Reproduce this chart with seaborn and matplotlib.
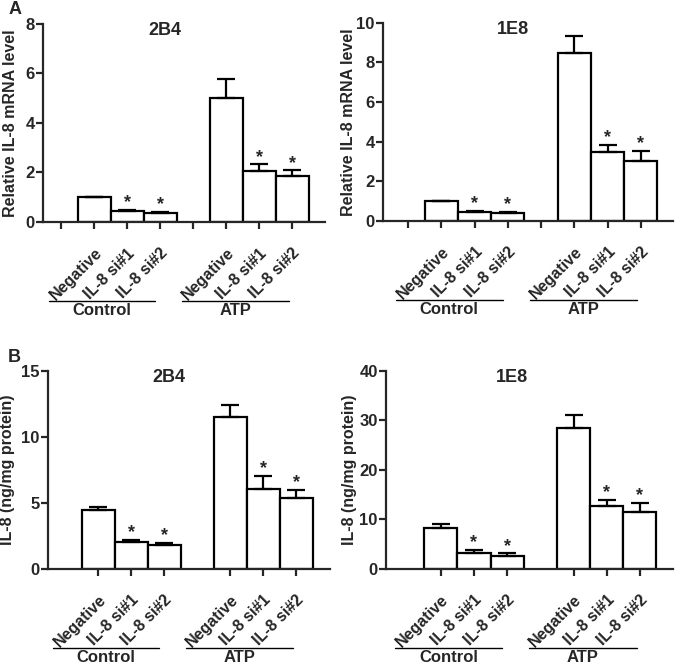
import numpy as np
import pandas as pd
import seaborn as sns
import matplotlib
matplotlib.use("Agg")
import matplotlib.pyplot as plt
import matplotlib.transforms as mtransforms

# Data (mean, upper SEM)
treatments = ["Negative", "IL-8 si#1", "IL-8 si#2"]
groups = ["Control", "ATP"]
significant = [False, True, True, False, True, True]

mrna_2b4 = [1.0, 0.43, 0.37, 5.02, 2.07, 1.84]
mrna_2b4_err = [0.0, 0.07, 0.05, 0.75, 0.26, 0.25]
mrna_1e8 = [1.0, 0.43, 0.38, 8.48, 3.45, 3.03]
mrna_1e8_err = [0.0, 0.07, 0.05, 0.86, 0.37, 0.51]
prot_2b4 = [4.45, 2.0, 1.82, 11.5, 6.05, 5.32]
prot_2b4_err = [0.25, 0.17, 0.15, 0.93, 1.0, 0.64]
prot_1e8 = [8.25, 3.2, 2.65, 28.4, 12.6, 11.5]
prot_1e8_err = [0.75, 0.6, 0.45, 2.6, 1.25, 1.75]

sns.set_style("ticks")
plt.rcParams['font.family'] = ['Liberation Sans', 'DejaVu Sans']
plt.rcParams['font.weight'] = 'bold'
plt.rcParams['axes.labelweight'] = 'bold'
plt.rcParams['axes.linewidth'] = 1.6

# category order: one blank slot before each group
order = []
for g in groups:
    order.append(f"{g}|")
    order += [f"{g}|{t}" for t in treatments]


def make_df(vals):
    names, values = [], []
    i = 0
    for g in groups:
        names.append(f"{g}|")
        values.append(np.nan)
        for t in treatments:
            names.append(f"{g}|{t}")
            values.append(vals[i])
            i += 1
    return pd.DataFrame({"cond": names, "value": values})


def draw_panel(ax, vals, errs, ylim, yticks, ylabel, title, xlim, blank_ticks, label_x):
    df = make_df(vals)
    sns.barplot(data=df, x="cond", y="value", order=order, color="white",
                edgecolor="black", linewidth=1.6, width=1.0, errorbar=None,
                saturation=1, ax=ax)
    pos = [order.index(n) for n in df["cond"] if not n.endswith("|")]
    ax.errorbar(pos, vals, yerr=[np.zeros(len(vals)), errs], fmt="none",
                ecolor="black", elinewidth=1.6, capsize=6.5, capthick=1.6, zorder=5)
    for p, v, e, s in zip(pos, vals, errs, significant):
        if s:
            ax.annotate("*", (p, v + e), xytext=(0, -1), textcoords="offset points",
                        ha="center", va="bottom", fontsize=13, fontweight="bold")
    ax.set_ylim(*ylim)
    ax.set_yticks(yticks)
    ax.set_yticklabels([str(t) for t in yticks], fontsize=12, fontweight="bold")
    ax.set_xlim(*xlim)
    if blank_ticks:
        ax.set_xticks(range(len(order)))
        ax.set_xticklabels([n.split("|")[1] for n in order])
    else:
        ax.set_xticks(pos)
        ax.set_xticklabels([n.split("|")[1] for n in order if not n.endswith("|")])
    for lab in ax.get_xticklabels():
        lab.set_rotation(45)
        lab.set_ha("right")
        lab.set_rotation_mode("anchor")
        lab.set_fontsize(11.5)
        lab.set_fontweight("bold")
    ax.tick_params(axis="x", length=5, width=1.6, pad=12)
    ax.tick_params(axis="y", length=5, width=1.6, pad=1)
    ax.set_xlabel("")
    ax.set_ylabel(ylabel, fontsize=11.5, fontweight="bold")
    ax.yaxis.set_label_coords(label_x, 0.5)
    sns.despine(ax=ax)
    trans = mtransforms.blended_transform_factory(ax.transData, ax.transAxes)
    ax.text(3.15, 0.965, title, transform=trans, ha="center", va="center",
            fontsize=13, fontweight="bold")
    spans = [(-0.38, 2.85), (3.67, 6.9)]
    for g, (a, b) in zip(groups, spans):
        ax.plot([a, b], [-0.40, -0.40], color="black", lw=1.0, transform=trans,
                clip_on=False)
        ax.text((a + b) / 2, -0.41, g, transform=trans, ha="center", va="top",
                fontsize=12, fontweight="bold")


fig = plt.figure(figsize=(6.75, 6.65), dpi=100)
ax1 = fig.add_axes([0.0637, 0.6662, 0.4178, 0.2977])
ax2 = fig.add_axes([0.5674, 0.6681, 0.4296, 0.2977])
ax3 = fig.add_axes([0.0711, 0.1448, 0.4178, 0.2977])
ax4 = fig.add_axes([0.5719, 0.1448, 0.4252, 0.2977])

draw_panel(ax1, mrna_2b4, mrna_2b4_err, (0, 8), [0, 2, 4, 6, 8],
           "Relative IL-8 mRNA level", "2B4", (-0.55, 8.0), True, -0.089)
draw_panel(ax2, mrna_1e8, mrna_1e8_err, (0, 10), [0, 2, 4, 6, 8, 10],
           "Relative IL-8 mRNA level", "1E8", (-0.76, 7.97), True, -0.093)
draw_panel(ax3, prot_2b4, prot_2b4_err, (0, 15), [0, 5, 10, 15],
           "IL-8 (ng/mg protein)", "2B4", (-0.52, 8.03), False, -0.117)
draw_panel(ax4, prot_1e8, prot_1e8_err, (0, 40), [0, 10, 20, 30, 40],
           "IL-8 (ng/mg protein)", "1E8", (-0.65, 8.0), False, -0.101)

fig.text(0.012, 0.985, "A", fontsize=13, fontweight="bold", ha="left", va="center")
fig.text(0.012, 0.463, "B", fontsize=13, fontweight="bold", ha="left", va="center")

fig.savefig("out.png", dpi=100)
